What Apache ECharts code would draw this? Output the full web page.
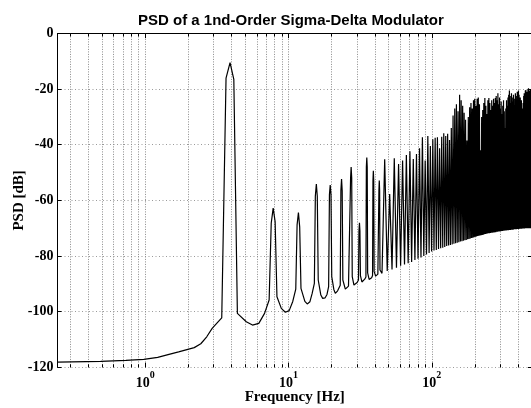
<!DOCTYPE html>
<html><head><meta charset="utf-8">
<script src="https://cdn.jsdelivr.net/npm/echarts@6/dist/echarts.min.js"></script>
<style>html,body{margin:0;padding:0;background:#fff}#c{width:531px;height:408px}</style>
</head><body><div id="c"></div>
<script>
// ---------------- data ----------------
const X_MIN = 0.2441, X_MAX = 500;
const Y_MIN = -120, Y_MAX = 0, Y_STEP = 20;
// explicit vertices of the low-frequency part [Hz, dB]
const lowPoints = [
  [0.244,-118.1],[0.488,-117.8],[0.732,-117.5],[0.977,-117.1],[1.221,-116.4],[1.465,-115.3],
  [1.709,-114.4],[1.953,-113.6],[2.197,-112.9],[2.441,-111.5],[2.686,-109.0],[2.930,-106.0],
  [3.174,-104.0],[3.418,-102.2],[3.662,-16.1],[3.906,-10.5],[4.150,-16.5],[4.395,-100.6],
  [5.07,-103.6],[5.6,-104.8],[6.2,-104.2],[6.8,-100.6],[7.32,-95.8],
  [7.57,-68.2],[7.81,-62.8],[8.06,-67.6],[8.30,-94.6],
  [8.9,-98.8],[9.5,-100.2],[10.1,-99.6],[10.7,-96.3],
  [11.23,-91.9],[11.47,-68.8],[11.72,-64.4],[11.96,-69.5],[12.21,-91.6],
  [13.0,-96.3],[13.5,-97.2],[14.1,-96.4],[14.6,-93.5],
  [15.14,-89.8],[15.38,-58.5],[15.63,-54.1],[15.87,-58.5],[16.11,-88.6],
  [16.8,-94.0],[17.3,-95.2],[18.0,-95.0],[18.55,-93.8],
  [19.04,-91.0],[19.29,-58.0],[19.53,-54.5],[19.78,-58.0],[20.02,-87.4],
  [20.7,-92.0],[21.2,-93.4],[22.0,-92.5],
  [22.95,-90.5],[23.19,-56.5],[23.44,-52.3],[23.68,-56.5],[23.93,-88.6],
  [24.9,-91.9],[25.5,-91.8],[26.2,-90.8],
  [26.86,-90.2],[27.10,-52.0],[27.34,-48.0],[27.59,-52.0],[27.83,-87.4],
  [28.6,-90.4],[29.4,-90.6],[30.1,-89.5],
  [30.76,-88.6],[31.00,-71.0],[31.25,-68.0],[31.49,-71.0],[31.74,-87.0],
  [32.5,-89.3],[33.2,-89.4],[34.0,-88.3],
  [34.67,-87.5],[34.91,-48.0],[35.16,-44.6],[35.40,-48.0],[35.64,-86.0],
  [36.5,-88.4],[37.3,-88.5],[38.0,-87.8],
  [38.57,-87.0],[38.82,-53.0],[39.06,-49.4],[39.31,-53.0],[39.55,-85.5],
  [40.5,-87.2],[41.2,-87.3],[42.0,-86.5],
  [42.48,-86.0],[42.72,-56.5],[42.97,-52.9],[43.21,-56.5],[43.46,-85.0],
  [44.9,-86.2]
];
// idle-tone peaks above 45 Hz: peak n sits at n * TONE_SPACING Hz
const TONE_SPACING = 3.90625;
const firstTone = 12;
const peakDB = [
  -45.2,-57.7,-44.9,-46.9,-45.7,-43.7,-42.3,-45.1,-43.3,-41.3,
  -37.3,-45.7,-36.9,-40.5,-38.0,-37.5,-37.3,-41.3,-37.1,-35.9,
  -36.9,-36.1,-38.3,-34.0,-29.5,-27.0,-25.5,-28.0,-22.0,-24.0,
  -26.0,-28.5,-31.0,-38.5,-30.0,-26.5,-25.0,-27.0,-24.0,-23.5,
  -26.0,-23.5,-23.0,-25.5,-42.0,-30.0,-27.5,-25.0,-23.2,-26.0,
  -29.0,-24.0,-23.2,-25.0,-27.5,-24.0,-26.0,-23.5,-25.0,-23.2,
  -22.5,-24.0,-21.5,-25.5,-23.0,-27.0,-24.5,-29.0,-26.0,-24.0,
  -28.0,-34.0,-27.0,-24.0,-26.0,-23.0,-22.0,-20.5,-22.5,-25.0,
  -21.5,-23.0,-24.5,-22.0,-23.5,-26.0,-21.5,-22.5,-24.0,-21.0,
  -23.0,-20.5,-22.0,-25.0,-23.0,-26.0,-24.0,-27.0,-28.7,-25.0,
  -22.5,-21.5,-23.0,-20.5,-20.3,-22.0,-21.0,-23.5,-20.0,-19.7,
  -21.5,-20.5,-22.0,-20.0,-21.0,-20.5,-20.0
];
// noise floor between consecutive peaks (valley after each peak)
const valleyDB = [
  -85.4,-84.8,-84.2,-83.5,-83.0,-82.6,-82.1,-81.4,-81.0,-80.5,
  -80.0,-79.4,-78.9,-78.4,-78.0,-77.8,-77.5,-77.2,-77.0,-76.7,
  -76.4,-76.2,-76.0,-75.8,-75.6,-75.4,-75.2,-75.0,-74.8,-74.7,
  -74.5,-74.3,-74.2,-74.0,-73.9,-73.7,-73.5,-73.4,-73.2,-73.1,
  -73.0,-72.8,-72.7,-72.6,-72.5,-72.4,-72.3,-72.2,-72.1,-72.0,
  -71.9,-71.8,-71.8,-71.7,-71.6,-71.6,-71.5,-71.5,-71.4,-71.4,
  -71.3,-71.3,-71.2,-71.2,-71.1,-71.1,-71.0,-71.0,-70.9,-70.9,
  -70.8,-70.8,-70.8,-70.7,-70.7,-70.7,-70.6,-70.6,-70.6,-70.5,
  -70.5,-70.5,-70.5,-70.4,-70.4,-70.4,-70.4,-70.4,-70.3,-70.3,
  -70.3,-70.3,-70.2,-70.2,-70.2,-70.2,-70.2,-70.1,-70.1,-70.1,
  -70.1,-70.1,-70.0,-70.0,-70.0,-70.0,-70.0,-70.0,-70.0,-70.0,
  -70.0,-70.0,-70.0,-70.0,-70.0,-70.0
];
const decadeTicks = [1, 10, 100];
const minorTicks = [0.3,0.4,0.5,0.6,0.7,0.8,0.9, 2,3,4,5,6,7,8,9, 20,30,40,50,60,70,80,90, 200,300,400];

// ---------------- build ----------------
const lineData = lowPoints.map(p => [p[0], p[1]]);
for (let i = 0; i < peakDB.length; i++) {
  const n = firstTone + i;
  lineData.push([n * TONE_SPACING, peakDB[i]]);
  if (i < valleyDB.length) lineData.push([(n + 0.5) * TONE_SPACING, valleyDB[i]]);
}

const SERIF = '"Liberation Serif","Times New Roman",serif';
const SANS = '"Liberation Sans",Arial,Helvetica,sans-serif';
const gridStyle = {color: '#8a8a8a', type: [1, 1.5], width: 1};
const tickStyle = {color: '#000', type: 'solid', width: 1};

const markData = [];
decadeTicks.concat(minorTicks).forEach(v => markData.push({xAxis: v, lineStyle: gridStyle}));
decadeTicks.concat(minorTicks).forEach(v => {
  const len = decadeTicks.indexOf(v) >= 0 ? 1.7 : 1.1;
  markData.push([{coord: [v, Y_MIN], lineStyle: tickStyle}, {coord: [v, Y_MIN + len], lineStyle: tickStyle}]);
  markData.push([{coord: [v, Y_MAX], lineStyle: tickStyle}, {coord: [v, Y_MAX - len], lineStyle: tickStyle}]);
});

function isDecade(v) {
  return decadeTicks.some(d => Math.abs(d - v) / d < 1e-6);
}

const chart = echarts.init(document.getElementById('c'), null, {renderer: 'canvas'});
chart.setOption({
  backgroundColor: '#fff',
  animation: false,
  title: {
    text: 'PSD of a 1nd-Order Sigma-Delta Modulator',
    left: 133, top: 8,
    textStyle: {fontFamily: SANS, fontWeight: 'bold', fontSize: 15, color: '#000'}
  },
  grid: {left: 57.5, right: -1, top: 33.4, bottom: 40.6, containLabel: false, outerBoundsMode: 'none'},
  xAxis: [{
    type: 'log', logBase: 10, min: X_MIN, max: X_MAX, position: 'bottom',
    name: 'Frequency [Hz]', nameLocation: 'middle', nameGap: 22, nameMoveOverlap: false,
    nameTextStyle: {fontFamily: SERIF, fontWeight: 'bold', fontSize: 15, color: '#000'},
    axisLine: {show: true, lineStyle: {color: '#000', width: 1}},
    axisTick: {show: false},
    splitLine: {show: false},
    axisLabel: {
      margin: 3,
      formatter: v => {
        if (!isDecade(v)) return '';
        return '{b|10}{s|' + Math.round(Math.log10(v)) + '}';
      },
      rich: {
        b: {fontFamily: SERIF, fontWeight: 'bold', fontSize: 14, color: '#000', lineHeight: 20, verticalAlign: 'bottom'},
        s: {fontFamily: SERIF, fontWeight: 'bold', fontSize: 10, color: '#000', lineHeight: 10, verticalAlign: 'top'}
      }
    }
  }, {
    type: 'log', logBase: 10, min: X_MIN, max: X_MAX, position: 'top',
    axisLine: {show: true, lineStyle: {color: '#000', width: 1}},
    axisTick: {show: false}, axisLabel: {show: false}, splitLine: {show: false}
  }],
  yAxis: [{
    type: 'value', min: Y_MIN, max: Y_MAX, interval: Y_STEP, position: 'left',
    name: 'PSD [dB]', nameLocation: 'middle', nameGap: 31, nameRotate: 90, nameMoveOverlap: false,
    nameTextStyle: {fontFamily: SERIF, fontWeight: 'bold', fontSize: 15, color: '#000'},
    axisLine: {show: true, lineStyle: {color: '#000', width: 1}},
    axisTick: {show: true, inside: true, length: 4, lineStyle: {color: '#000'}},
    axisLabel: {margin: 4, fontFamily: SERIF, fontWeight: 'bold', fontSize: 14, color: '#000'},
    splitLine: {show: true, lineStyle: {color: '#9a9a9a', type: [1, 2.5], width: 1}}
  }, {
    type: 'value', min: Y_MIN, max: Y_MAX, interval: Y_STEP, position: 'right',
    axisLine: {show: true, lineStyle: {color: '#000', width: 1}},
    axisTick: {show: true, inside: true, length: 4, lineStyle: {color: '#000'}},
    axisLabel: {show: false}, splitLine: {show: false}
  }],
  series: [{
    type: 'line', xAxisIndex: 0, yAxisIndex: 0,
    data: lineData, showSymbol: false, symbol: 'none', sampling: null,
    lineStyle: {color: '#000', width: 1.2}, z: 3, silent: true,
    markLine: {silent: true, symbol: ['none', 'none'], label: {show: false}, z: 1, animation: false, data: markData}
  }]
});
</script></body></html>
